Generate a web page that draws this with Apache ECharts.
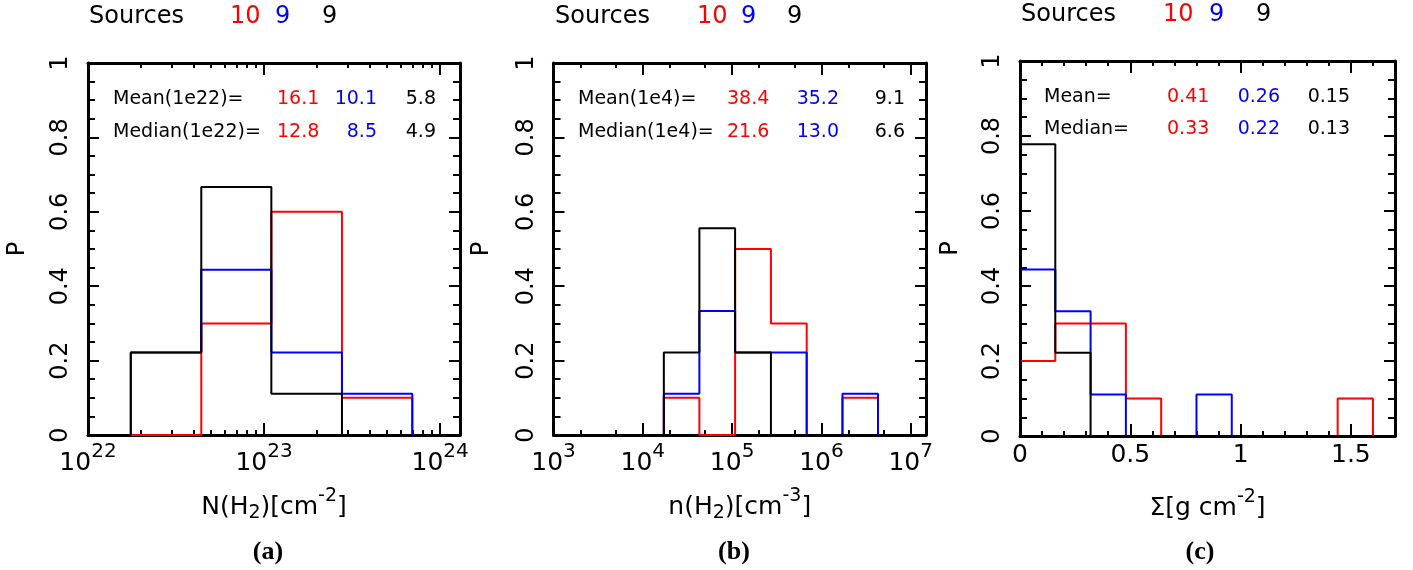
<!DOCTYPE html>
<html><head><meta charset="utf-8">
<script src="https://cdn.jsdelivr.net/npm/echarts@6/dist/echarts.min.js"></script>
<style>html,body{margin:0;padding:0;background:#fff}#c{width:1413px;height:570px}</style>
</head><body><div id="c"></div>
<script>
// ---------------- data ----------------
// panel (a): N(H2) histogram, log-spaced bins
const aEdges = [1.75e22, 4.4e22, 1.1e23, 2.77e23, 6.95e23];
const aRed   = [0, 0.3, 0.6, 0.1];
const aBlue  = [0.222, 0.444, 0.222, 0.111];
const aBlack = [0.222, 0.667, 0.111, 0];
const aMean   = ['16.1', '10.1', '5.8'];
const aMedian = ['12.8', '8.5', '4.9'];
// panel (b): n(H2) histogram
const bEdges = [1.72e4, 4.3e4, 1.08e5, 2.72e5, 6.84e5, 1.72e6, 4.3e6];
const bRed   = [0.1, 0, 0.5, 0.3, 0, 0.1];
const bBlue  = [0.111, 0.333, 0.222, 0.222, 0, 0.111];
const bBlack = [0.222, 0.556, 0.222, 0, 0, 0];
const bMean   = ['38.4', '35.2', '9.1'];
const bMedian = ['21.6', '13.0', '6.6'];
// panel (c): surface density histogram
const cEdges = [0, 0.16, 0.32, 0.48, 0.64, 0.80, 0.96, 1.12, 1.28, 1.44, 1.60];
const cRed   = [0.2, 0.3, 0.3, 0.1, 0, 0, 0, 0, 0, 0.1];
const cBlue  = [0.444, 0.333, 0.111, 0, 0, 0.111, 0, 0, 0, 0];
const cBlack = [0.778, 0.222, 0, 0, 0, 0, 0, 0, 0, 0];
const cMean   = ['0.41', '0.26', '0.15'];
const cMedian = ['0.33', '0.22', '0.13'];
const sourceCounts = ['10', '9', '9'];
// tick values
const aMajor = [1e22, 1e23, 1e24];
const aMinor = [2e22,3e22,4e22,5e22,6e22,7e22,8e22,9e22,2e23,3e23,4e23,5e23,6e23,7e23,8e23,9e23];
const bMajor = [1e3, 1e4, 1e5, 1e6, 1e7];
const bMinor = [2e3,5e3,2e4,5e4,2e5,5e5,2e6,5e6];
const cMajor = [0, 0.5, 1, 1.5];
const cMinor = [0.1,0.2,0.3,0.4,0.6,0.7,0.8,0.9,1.1,1.2,1.3,1.4,1.6];

// ---------------- styling ----------------
const FONT = '"DejaVu Sans", Verdana, sans-serif';
const SERIF = '"Liberation Serif", "Times New Roman", serif';
const RED = '#ff0000', BLUE = '#0000ff', BLACK = '#000000';

function stepData(edges, vals) {
  const pts = [[edges[0], 0]];
  vals.forEach((v, i) => { pts.push([edges[i], v]); pts.push([edges[i + 1], v]); });
  pts.push([edges[edges.length - 1], 0]);
  return pts;
}

const tickLine = {color: BLACK, width: 2};
const boxLine = {show: true, onZero: false, lineStyle: {color: BLACK, width: 3}};
const noLine = {show: false, onZero: false};
const nameRich = {
  n: {fontSize: 25, fontFamily: FONT, color: BLACK},
  sub: {fontSize: 19, fontFamily: FONT, color: BLACK, padding: [11, 0, 0, 0]},
  sup: {fontSize: 19, fontFamily: FONT, color: BLACK, padding: [0, 0, 22, 0]}
};
const logLabel = v => '{m|10}{s|' + Math.round(Math.log10(v)) + '}';
const linLabel = v => '{m|' + v + '}';
const labelRich = {
  m: {fontSize: 25, fontFamily: FONT, color: BLACK},
  s: {fontSize: 20, fontFamily: FONT, color: BLACK, padding: [0, 0, 22, 0]}
};

function xAxes(gi, type, min, max, major, minor, fmt, name) {
  const base = {gridIndex: gi, type: type, min: min, max: max,
    splitLine: {show: false}, minorSplitLine: {show: false}, axisPointer: {show: false}};
  if (type === 'log') base.logBase = 10;
  const majorTick = {show: true, inside: true, length: 12, lineStyle: tickLine, customValues: major};
  const minorTick = {show: true, inside: true, length: 5, lineStyle: tickLine, customValues: minor};
  return [
    Object.assign({}, base, {position: 'bottom', axisLine: boxLine, axisTick: majorTick,
      axisLabel: {show: true, customValues: major, formatter: fmt, margin: 7, rich: labelRich},
      name: name, nameLocation: 'middle', nameGap: 52, nameTextStyle: {rich: nameRich}}),
    Object.assign({}, base, {position: 'bottom', axisLine: noLine, axisTick: minorTick, axisLabel: {show: false}}),
    Object.assign({}, base, {position: 'top', axisLine: boxLine, axisTick: majorTick, axisLabel: {show: false}}),
    Object.assign({}, base, {position: 'top', axisLine: noLine, axisTick: minorTick, axisLabel: {show: false}})
  ];
}

function yAxes(gi, nameGap) {
  const base = {gridIndex: gi, type: 'value', min: 0, max: 1, interval: 0.2,
    splitLine: {show: false}, minorSplitLine: {show: false}, axisLine: boxLine,
    axisTick: {show: true, inside: true, length: 11, lineStyle: tickLine},
    minorTick: {show: true, splitNumber: 4, length: 7, lineStyle: tickLine}};
  return [
    Object.assign({}, base, {position: 'left',
      axisLabel: {show: true, rotate: 90, margin: 15, fontSize: 24, fontFamily: FONT, color: BLACK,
        formatter: v => String(Math.round(v * 10) / 10)},
      name: 'P', nameLocation: 'middle', nameGap: nameGap,
      nameTextStyle: {fontSize: 24, fontFamily: FONT, color: BLACK}}),
    Object.assign({}, base, {position: 'right', axisLabel: {show: false}})
  ];
}

function series(xi, yi, edges, red, blue, black) {
  return [[red, RED], [blue, BLUE], [black, BLACK]].map(([vals, col]) => ({
    type: 'line', xAxisIndex: xi, yAxisIndex: yi, data: stepData(edges, vals),
    symbol: 'none', silent: true, animation: false, clip: false,
    lineStyle: {color: col, width: 2}
  }));
}

function txt(x, y, s, col, size, align, weight, family) {
  return {type: 'text', x: x, y: y, silent: true, style: {
    text: s, fill: col, align: align || 'left', verticalAlign: 'middle',
    font: (weight || 'normal') + ' ' + size + 'px ' + (family || FONT)}};
}

const graphics = [];
function header(xS, xN, y) {
  graphics.push(txt(xS, y, 'Sources', BLACK, 24));
  graphics.push(txt(xN[0], y, sourceCounts[0], RED, 24));
  graphics.push(txt(xN[1], y, sourceCounts[1], BLUE, 24));
  graphics.push(txt(xN[2], y, sourceCounts[2], BLACK, 24));
}
function stats(xL, labels, xs, ys, mean, median) {
  graphics.push(txt(xL, ys[0], labels[0], BLACK, 19));
  graphics.push(txt(xL, ys[1], labels[1], BLACK, 19));
  [[mean, ys[0]], [median, ys[1]]].forEach(([arr, y]) => {
    graphics.push(txt(xs[0], y, arr[0], RED, 19, 'left'));
    graphics.push(txt(xs[1], y, arr[1], BLUE, 19, 'right'));
    graphics.push(txt(xs[2], y, arr[2], BLACK, 19, 'right'));
  });
}
header(89, [230, 275, 322], 17);
header(555, [697, 741, 787], 17);
header(1021, [1163, 1209, 1256], 15);
stats(113, ['Mean(1e22)=', 'Median(1e22)='], [277, 377, 436], [99, 132], aMean, aMedian);
stats(578, ['Mean(1e4)=', 'Median(1e4)='], [727, 839, 905], [99, 132], bMean, bMedian);
stats(1044, ['Mean=', 'Median='], [1167, 1280, 1350], [97, 129], cMean, cMedian);
graphics.push(txt(268, 552, '(a)', BLACK, 26, 'center', 'bold', SERIF));
graphics.push(txt(734, 552, '(b)', BLACK, 26, 'center', 'bold', SERIF));
graphics.push(txt(1200, 552, '(c)', BLACK, 26, 'center', 'bold', SERIF));

const option = {
  animation: false,
  backgroundColor: '#fff',
  grid: [
    {left: 88, top: 63, width: 372, height: 372, outerBoundsMode: 'none'},
    {left: 553.5, top: 63, width: 372.5, height: 372, outerBoundsMode: 'none'},
    {left: 1020, top: 61, width: 375, height: 375, outerBoundsMode: 'none'}
  ],
  xAxis: [].concat(
    xAxes(0, 'log', 1e22, Math.pow(10, 24.113), aMajor, aMinor, logLabel, '{n|N(H}{sub|2}{n|)[cm}{sup|-2}{n|]}'),
    xAxes(1, 'log', 1e3, Math.pow(10, 7.171), bMajor, bMinor, logLabel, '{n|n(H}{sub|2}{n|)[cm}{sup|-3}{n|]}'),
    xAxes(2, 'value', 0, 1.70, cMajor, cMinor, linLabel, '{n|Σ[g cm}{sup|-2}{n|]}')
  ),
  yAxis: [].concat(yAxes(0, 58), yAxes(1, 60), yAxes(2, 57)),
  series: [].concat(
    series(0, 0, aEdges, aRed, aBlue, aBlack),
    series(4, 2, bEdges, bRed, bBlue, bBlack),
    series(8, 4, cEdges, cRed, cBlue, cBlack)
  ),
  graphic: graphics
};
const chart = echarts.init(document.getElementById('c'), null, {renderer: 'canvas'});
chart.setOption(option);
</script></body></html>
